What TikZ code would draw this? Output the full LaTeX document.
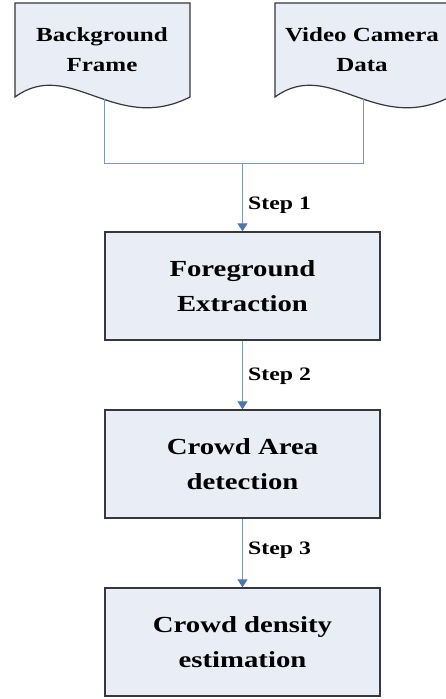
\documentclass[tikz,border=0pt]{standalone}
\usepackage{fontspec}
\setmainfont{Liberation Serif}
\newfontfamily\widebf[FakeStretch=1.25]{Liberation Serif Bold}
\usetikzlibrary{arrows.meta}
\definecolor{boxfill}{RGB}{232,237,246}
\definecolor{boxline}{RGB}{55,55,60}
\definecolor{flowline}{RGB}{125,152,190}
\definecolor{flowhead}{RGB}{78,118,170}
\tikzset{
  procbox/.style={draw=boxline, line width=1.3pt, fill=boxfill,
    minimum width=275pt, minimum height=108pt, inner sep=0pt,
    align=center, font=\widebf\fontsize{23}{35}\selectfont},
  doctext/.style={align=center, inner sep=0pt,
    font=\widebf\fontsize{20}{30}\selectfont},
  docshape/.style={draw=boxline, line width=1.2pt, fill=boxfill},
  steplabel/.style={anchor=west, inner sep=0pt,
    font=\widebf\fontsize{19}{22}\selectfont},
  flow/.style={draw=flowline, line width=1pt},
  flowarrow/.style={flow, -{Triangle[width=10pt,length=8pt,fill=flowhead,color=flowhead]}}
}
\begin{document}
\begin{tikzpicture}[x=1pt,y=-1pt]
  \useasboundingbox (0,0) rectangle (446,699);
  \fill[white] (0,0) rectangle (446,699);

  % input documents with wavy bottom edges
  \begin{scope}
    \clip (0,0) rectangle (446,699);
    \path[docshape] (15,3) -- (190,3) -- (190,97)
      .. controls (115,135) and (70,57) .. (15,97) -- cycle;
    \path[docshape] (275,3) -- (450,3) -- (450,97)
      .. controls (375,135) and (330,57) .. (275,97) -- cycle;
  \end{scope}
  \node[doctext] (bf) at (102,50) {Background\\Frame};
  \node[doctext] (vc) at (362,50) {Video Camera\\Data};

  % processing stages
  \node[procbox] (fe) at (242.5,286) {Foreground\\Extraction};
  \node[procbox] (ca) at (242.5,464) {Crowd Area\\detection};
  \node[procbox] (cd) at (242.5,642) {Crowd density\\estimation};

  % merge of the two inputs
  \coordinate (bfout) at (104,99);
  \coordinate (vcout) at (363,99);
  \coordinate (join) at (fe.north |- 0,163);
  \draw[flow] (bfout) |- (join);
  \draw[flow] (vcout) |- (join);
  \draw[flowarrow] (join) -- (fe.north);
  \draw[flowarrow] (fe.south) -- (ca.north);
  \draw[flowarrow] (ca.south) -- (cd.north);

  % step labels
  \node[steplabel] (s1) at (248,205) {Step 1};
  \node[steplabel] (s2) at (248,376) {Step 2};
  \node[steplabel] (s3) at (248,550) {Step 3};
\end{tikzpicture}
\end{document}
